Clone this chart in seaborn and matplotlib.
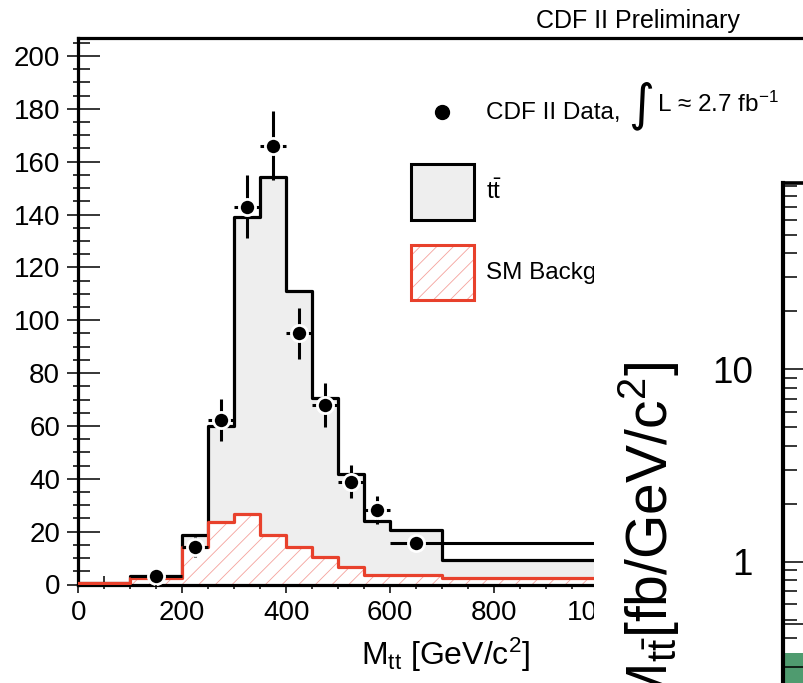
import numpy as np
import matplotlib
matplotlib.use("Agg")
import matplotlib.pyplot as plt
import seaborn as sns
from matplotlib.patches import Rectangle, Patch
from matplotlib.lines import Line2D
from matplotlib.legend_handler import HandlerTuple, HandlerLine2D
from matplotlib.ticker import MultipleLocator, LogLocator, NullFormatter, FuncFormatter

# ---------------- data ----------------
bin_edges = [0, 100, 200, 250, 300, 350, 400, 450, 500, 550, 600, 700, 1400]
total_mc = [0.5, 3.2, 18.7, 60.1, 139.0, 154.3, 111.2, 70.5, 41.8, 24.1, 20.6, 9.3]
sm_background = [0.5, 2.5, 14.3, 23.8, 26.6, 18.7, 14.3, 10.5, 6.7, 3.6, 3.6, 2.3]

data_x = [150, 225, 275, 325, 375, 425, 475, 525, 575, 650]
data_y = [3.2, 14.1, 62.3, 143.0, 166.1, 95.1, 67.9, 38.9, 28.2, 15.8]
data_err = [1.8, 3.7, 7.9, 12.0, 12.9, 9.7, 8.2, 6.2, 5.3, 2.5]
data_lo = [100, 200, 250, 300, 350, 400, 450, 500, 550, 600]
data_hi = [200, 250, 300, 350, 400, 450, 500, 550, 600, 1400]

# second (overlapping) panel, log scale
right_x = [0.0, 1.0]
right_band_low = [0.2, 0.2]
right_band_high = [0.337, 0.337]
right_lines = [0.473, 0.285]

x_tick_step, x_minor_step = 200, 50
y_tick_step, y_minor_step = 20, 5

legend_labels = ["CDF II Data,", r"t$\bar{\mathrm{t}}$", "SM Background"]
lumi_text = "L \u2248 2.7 fb$^{\\mathrm{-1}}$"

# ---------------- style ----------------
sns.set_theme(style="ticks", rc={"axes.edgecolor": "black", "xtick.color": "black",
                                 "ytick.color": "black", "text.color": "black",
                                 "axes.labelcolor": "black"})
plt.rcParams["font.family"] = ["Liberation Sans", "DejaVu Sans"]
plt.rcParams["mathtext.fontset"] = "custom"
plt.rcParams["mathtext.rm"] = "Liberation Sans"
plt.rcParams["mathtext.it"] = "Liberation Sans:italic"
plt.rcParams["mathtext.bf"] = "Liberation Sans:bold"
plt.rcParams["hatch.linewidth"] = 0.6

RED = "#e8412c"
HATCH = "#f5a29c"
GREY = "#eeeeee"

W, H = 804, 683
fig = plt.figure(figsize=(W / 100, H / 100), dpi=100)


def fx(px):
    return px / W


def fy(py):
    return 1 - py / H


class CenteredMarkerHandler(HandlerLine2D):
    """Put the legend marker at the vertical centre of the handle box."""

    def create_artists(self, legend, orig_handle, xdescent, ydescent, width, height,
                       fontsize, trans):
        return super().create_artists(legend, orig_handle, xdescent, 2 * ydescent,
                                      width, height, fontsize, trans)


# main axes geometry (pixels)
x0_px, y0_px = 78.3, 584.5
px_per_x, px_per_y = 0.52, 2.6425
xmax, ymax = 1800, 206.7
rect = [fx(x0_px), fy(y0_px), xmax * px_per_x / W, ymax * px_per_y / H]
ax = fig.add_axes(rect)

centers = [(a + b) / 2 for a, b in zip(bin_edges[:-1], bin_edges[1:])]

# total expectation (ttbar + background)
sns.histplot(x=centers, weights=total_mc, bins=bin_edges, element="step", fill=True,
             color="black", facecolor=GREY, edgecolor="black", linewidth=2.3, ax=ax, zorder=1)
# background: white fill with hatch, then red outline
sns.histplot(x=centers, weights=sm_background, bins=bin_edges, element="step", fill=True,
             color=HATCH, facecolor="white", edgecolor=HATCH, hatch="//", linewidth=0,
             ax=ax, zorder=2)
sns.histplot(x=centers, weights=sm_background, bins=bin_edges, element="step", fill=False,
             color=RED, linewidth=2.3, ax=ax, zorder=3)

# data points
xerr = [np.subtract(data_x, data_lo), np.subtract(data_hi, data_x)]
ax.errorbar(data_x, data_y, yerr=data_err, xerr=xerr, fmt="none", ecolor="black",
            elinewidth=2.2, capsize=0, zorder=5)
sns.scatterplot(x=data_x, y=data_y, color="black", s=135, edgecolor="white",
                linewidth=2.0, zorder=6, ax=ax, legend=False)

ax.set_xlim(0, xmax)
ax.set_ylim(0, ymax)
ax.set_ylabel("")
for s in ["left", "top", "bottom"]:
    ax.spines[s].set_linewidth(2.3)
ax.spines["right"].set_visible(False)

ax.xaxis.set_major_locator(MultipleLocator(x_tick_step))
ax.xaxis.set_minor_locator(MultipleLocator(x_minor_step))
ax.yaxis.set_major_locator(MultipleLocator(y_tick_step))
ax.yaxis.set_minor_locator(MultipleLocator(y_minor_step))
ax.tick_params(axis="y", which="major", direction="in", length=15.8, width=1.1,
               labelsize=20, pad=13, left=True, right=False)
ax.tick_params(axis="y", which="minor", direction="in", length=8.6, width=1.1,
               left=True, right=False)
ax.tick_params(axis="x", which="major", direction="in", length=12.2, width=1.1,
               labelsize=20, pad=11, bottom=True, top=False)
ax.tick_params(axis="x", which="minor", direction="in", length=6.5, width=1.1,
               bottom=True, top=False)

ax.set_xlabel(r"M$_{\mathrm{tt}}$ [GeV/c$^{\mathrm{2}}$]", fontsize=23, ha="right", va="baseline")
ax.xaxis.set_label_coords(fx(530), fy(665), transform=fig.transFigure)

# outward part of ticks (ROOT style ticks crossing the axis)
ax_out = fig.add_axes(rect, sharex=ax, sharey=ax)
ax_out.set_facecolor("none")
for s in ax_out.spines.values():
    s.set_visible(False)
ax_out.tick_params(axis="y", which="major", direction="out", length=7.9, width=1.1,
                   labelleft=False, left=True, right=False)
ax_out.tick_params(axis="y", which="minor", direction="out", length=3.6, width=1.1,
                   left=True, right=False)
ax_out.tick_params(axis="x", which="major", direction="out", length=5.8, width=1.1,
                   labelbottom=False, bottom=True, top=False)
ax_out.tick_params(axis="x", which="minor", direction="out", length=3.0, width=1.1,
                   bottom=True, top=False)

# legend
marker_handle = Line2D([], [], ls="none", marker="o", ms=10, color="black")
handles = [
    marker_handle,
    Patch(facecolor=GREY, edgecolor="black", lw=2.2),
    (Patch(facecolor="white", edgecolor=HATCH, hatch="//", lw=0),
     Patch(facecolor="none", edgecolor=RED, lw=2.2)),
]
ax.legend(handles, legend_labels, loc="upper left",
          bbox_to_anchor=(fx(410.8), fy(84.2)), bbox_transform=fig.transFigure,
          frameon=False, fontsize=17.5, handlelength=2.58, handleheight=3.12,
          handletextpad=0.53, labelspacing=1.03, borderpad=0, borderaxespad=0,
          handler_map={tuple: HandlerTuple(ndivide=1),
                       marker_handle: CenteredMarkerHandler()})

# luminosity part of the data legend entry (large integral sign)
fig.text(fx(641), fy(106), "\u222b", fontsize=36, ha="center", va="center",
         family=["DejaVu Sans"], zorder=21)
fig.text(fx(657), fy(111.7), lumi_text, fontsize=17.5, ha="left", va="baseline", zorder=21)

# white region of the overlapping second figure
fig.add_artist(Rectangle((fx(594), 0), 1, fy(172), transform=fig.transFigure,
                         facecolor="white", edgecolor="none", zorder=10))

fig.text(fx(637.5), fy(28), "CDF II Preliminary", ha="center", va="baseline",
         fontsize=18, zorder=21)

# ---------------- second panel (log scale, partly visible) ----------------
top_r = 183.3
ax2 = fig.add_axes([fx(782.7), 0, 90 / W, (H - top_r) / H])
ax2.set_zorder(20)
ax2.set_facecolor("none")
ax2.set_yscale("log")
ax2.fill_between(right_x, right_band_low, right_band_high, color="#4f9b6f", lw=0)
ax2.hlines(right_lines, right_x[0], right_x[-1], colors="black", lw=1.1)
ax2.set_xlim(0, 1)
ax2.set_ylim(0.234, 92.6)
ax2.spines["left"].set_linewidth(3)
ax2.spines["top"].set_linewidth(2.6)
ax2.spines["right"].set_visible(False)
ax2.spines["bottom"].set_visible(False)
ax2.yaxis.set_major_locator(LogLocator(base=10, numticks=10))
ax2.yaxis.set_minor_locator(LogLocator(base=10, subs=np.arange(2, 10), numticks=20))
ax2.yaxis.set_minor_formatter(NullFormatter())
ax2.yaxis.set_major_formatter(FuncFormatter(lambda v, p: f"{v:g}"))
ax2.tick_params(axis="y", which="major", direction="in", length=22, width=1.1,
                labelsize=26.6, pad=21.5, left=True, right=False)
ax2.tick_params(axis="y", which="minor", direction="in", length=10, width=1.1,
                left=True, right=False)
ax2.tick_params(axis="x", which="both", bottom=False, top=False, labelbottom=False)
ax2.set_ylabel(r"d$\sigma$/dM$_{\mathrm{t\bar{t}}}$[fb/GeV/c$^{\mathrm{2}}$]",
               fontsize=41, ha="right", va="bottom")
ax2.yaxis.set_label_coords(fx(682), fy(361.7), transform=fig.transFigure)

fig.savefig("out.png", dpi=100)
